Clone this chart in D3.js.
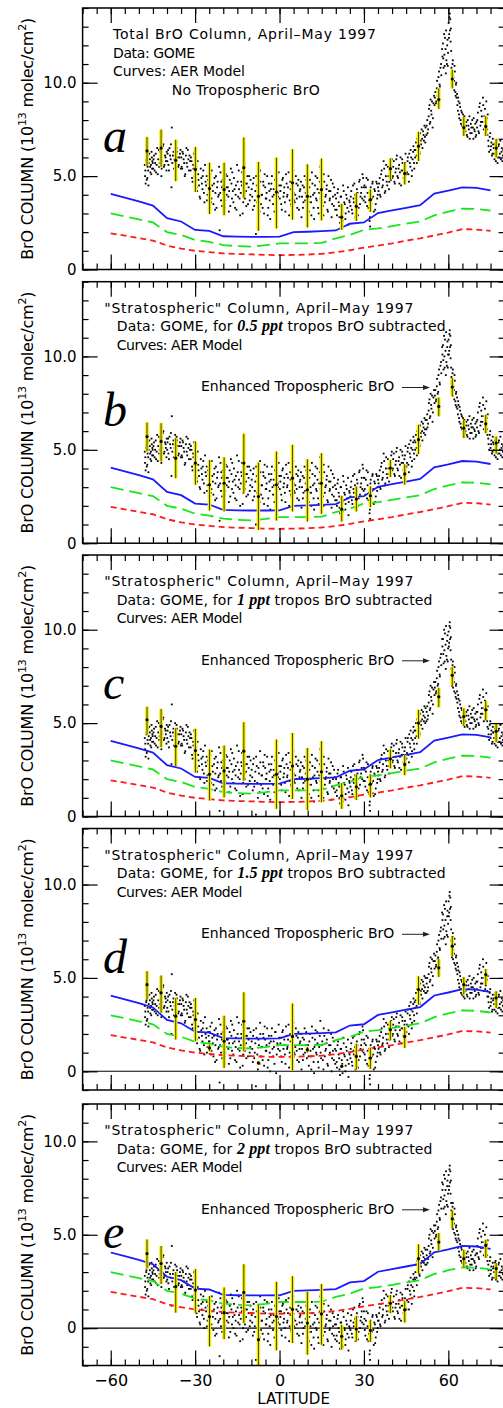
<!DOCTYPE html>
<html><head><meta charset="utf-8">
<script src="https://cdn.jsdelivr.net/npm/d3@7"></script>
<style>body{margin:0;background:#fff;} svg{display:block;}</style>
</head><body>
<svg id="chart" width="503" height="1408"></svg>
<script>
// ---------- DATA ----------
// GOME measurement latitudes (two passes), shared by all five panels
const dotLat = [
-47.9,-47.8,-47.6,-47.3,-47.0,-46.7,-46.5,-46.3,-46.0,-45.6,-45.4,-45.2,
-44.9,-44.6,-44.2,-43.9,-43.5,-43.1,-42.8,-42.4,-42.0,-41.7,-41.3,-40.9,-40.5,-40.2,
-39.8,-39.5,-39.1,-38.7,-38.4,-38.3,-37.9,-37.5,-37.1,-36.7,-36.4,-36.0,-35.6,-35.2,
-34.8,-34.5,-34.1,-33.7,-33.3,-33.0,-32.6,-32.2,-31.8,-31.5,-31.1,-30.7,-30.4,-30.1,
-29.8,-29.5,-29.1,-28.8,-28.4,-28.0,-27.6,-27.3,-26.9,-26.5,-26.1,-25.8,-25.4,-25.1,
-24.8,-24.4,-24.1,-23.7,-23.3,-22.9,-22.6,-22.2,-21.8,-21.5,-21.1,-20.7,-20.4,-20.1,-21.3,
-19.8,-19.5,-19.1,-18.8,-18.4,-18.0,-17.7,-17.3,-16.9,-16.6,-16.2,-15.8,-15.5,-15.1,-14.7,-14.4,-14.0,-13.6,-13.3,-12.9,-12.5,-12.1,-11.8,-11.4,-11.0,-10.6,-10.3,
-9.9,-9.5,-9.2,-8.8,-8.4,-8.1,-7.7,-7.3,-6.9,-6.6,-6.2,-5.8,-5.5,-5.1,-4.7,-4.4,-4.0,-3.6,-3.3,-2.9,-2.5,-2.1,-1.8,-1.4,-1.0,-0.6,-0.3,
0.1,0.5,0.8,1.2,1.6,1.9,2.3,2.7,3.0,3.4,3.8,4.1,4.5,4.9,5.2,5.6,6.0,6.3,6.7,7.1,7.4,7.8,8.2,8.5,8.9,9.3,9.7,
10.1,10.4,10.8,11.2,11.5,11.9,12.3,12.6,13.0,13.4,13.7,14.1,14.5,14.8,15.2,15.6,15.9,16.3,16.7,17.0,17.4,17.8,18.1,18.5,18.9,19.3,19.7,
20.1,20.4,20.8,21.2,21.5,21.9,22.3,22.6,23.0,23.4,23.7,24.1,24.5,24.8,
25.2,25.5,25.9,26.3,26.6,27.0,27.4,27.7,28.1,28.5,28.8,29.2,29.5,29.9,
30.2,30.5,30.9,31.3,31.6,32.0,32.2,32.4,32.8,33.1,33.5,33.9,34.2,34.6,34.9,
35.2,35.6,35.9,36.3,36.7,37.0,37.4,37.8,38.1,38.5,38.9,39.2,39.6,39.9,
40.3,40.6,41.0,41.4,41.7,42.1,42.5,42.8,43.2,43.6,43.9,44.3,44.6,44.9,
45.3,45.6,46.0,46.3,46.6,47.0,47.3,47.6,47.9,
48.2,48.5,48.8,49.2,49.5,49.8,50.2,50.5,50.8,51.2,51.5,51.8,
52.2,52.5,52.8,53.1,53.4,53.7,54.0,54.4,54.7,
55.1,55.4,55.7,56.0,56.4,56.7,57.0,57.4,57.8,
58.1,58.3,58.6,58.8,59.1,59.3,59.6,59.8,
60.1,60.3,60.5,60.7,60.9,
61.1,61.3,61.6,61.8,62.1,62.3,62.6,62.8,
63.1,63.4,63.6,63.9,64.2,64.5,64.8,65.1,65.4,65.7,
66.1,66.4,66.8,67.1,67.5,67.8,68.2,68.5,68.9,69.2,69.6,69.9,
70.2,70.5,70.9,71.2,71.6,71.9,72.3,72.6,73.0,73.3,73.7,73.9,
74.2,74.5,74.9,75.2,75.5,75.8,
76.1,76.4,76.8,77.1,77.5,77.8,78.2,78.5,78.9,79.2,79.5,79.8,
// second pass
-47.7,-47.4,-47.2,-46.9,-46.8,-46.6,-46.1,-45.9,-45.7,-45.5,-45.3,-45.1,
-44.8,-44.4,-44.0,-43.7,-43.3,-42.9,-42.6,-42.2,-41.9,-41.5,-41.1,-40.7,-40.4,-40.1,
-39.9,-39.6,-39.3,-38.9,-38.6,-38.1,-37.7,-37.3,-36.9,-36.6,-36.2,-35.8,-35.4,-35.1,
-34.9,-34.6,-34.3,-33.9,-33.5,-33.1,-32.8,-32.4,-32.0,-31.6,-31.3,-30.9,-30.6,-30.2,
-29.9,-29.6,-29.3,-28.9,-28.6,-28.2,-27.8,-27.4,-27.1,-26.7,-26.3,-25.9,-25.6,-25.2,
-24.9,-24.6,-24.2,-23.9,-23.5,-23.1,-22.8,-22.4,-22.0,-21.6,-21.0,-20.8,-20.5,-20.2,
-19.9,-19.6,-19.3,-18.9,-18.6,-18.2,-17.9,-17.5,-17.1,-16.8,-16.4,-16.0,-15.6,-15.3,-14.9,-14.5,-14.2,-13.8,-13.4,-13.1,-12.7,-12.3,-11.9,-11.6,-11.2,-10.8,-10.4,
-9.7,-9.4,-9.0,-8.6,-8.3,-7.9,-7.5,-7.1,-6.8,-6.4,-6.0,-5.7,-5.3,-4.9,-4.6,-4.2,-3.8,-3.5,-3.1,-2.7,-2.3,-2.0,-1.6,-1.2,-0.8,-0.5,-0.1,
0.3,0.6,1.0,1.4,1.7,2.1,2.5,2.8,3.2,3.6,3.9,4.3,4.7,5.0,5.4,5.8,6.1,6.5,6.9,7.2,7.6,8.0,8.3,8.7,9.1,9.5,9.9,
10.3,10.6,11.0,11.3,11.7,12.1,12.4,12.8,13.2,13.5,13.9,14.3,14.6,15.0,15.4,15.7,16.1,16.5,16.8,17.2,17.6,17.9,18.3,18.7,19.0,19.4,19.8,
20.3,20.6,21.0,21.3,21.7,22.1,22.4,22.8,23.2,23.5,23.9,24.3,24.6,24.9,
25.3,25.7,26.1,26.4,26.8,27.2,27.5,27.9,28.3,28.6,29.0,29.4,29.7,30.0,
30.3,30.7,31.1,31.4,31.8,32.1,32.3,32.6,33.0,33.3,33.7,34.0,34.4,34.7,35.0,
35.4,35.7,36.1,36.5,36.8,37.2,37.6,37.9,38.3,38.7,39.0,39.4,39.7,40.1,
40.4,40.8,41.2,41.5,41.9,42.3,42.6,43.0,43.4,43.7,44.1,44.4,44.8,45.1,
45.5,45.8,46.1,46.5,46.8,47.1,47.5,47.8,48.0,
48.3,48.7,49.0,49.3,49.7,50.0,50.3,50.7,51.0,51.3,51.7,51.9,
52.3,52.6,53.0,53.3,53.6,53.9,54.2,54.5,54.9,
55.2,55.6,55.9,56.2,56.5,56.9,57.2,57.5,57.9,
58.2,58.5,58.7,59.0,59.2,59.5,59.7,59.9,
60.2,60.4,60.6,60.8,61.0,
61.2,61.5,61.7,62.0,62.2,62.5,62.7,62.9,
63.2,63.5,63.8,64.0,64.3,64.6,64.9,65.2,65.5,65.8,
66.3,66.6,66.9,67.3,67.6,68.0,68.3,68.7,69.0,69.4,69.7,70.0,
70.3,70.7,71.0,71.4,71.7,72.1,72.4,72.8,73.1,73.5,73.8,74.0,
74.3,74.7,75.0,75.3,75.7,75.9,
76.3,76.6,76.9,77.3,77.6,78.0,78.3,78.7,79.0,79.4,79.7,79.9];

// (a) total BrO column
const dotA = [
5.6,5.0,4.6,5.9,4.9,5.3,5.7,6.2,5.5,5.1,6.0,5.8,
5.4,6.1,5.7,5.2,6.5,5.9,5.5,6.3,5.0,5.8,6.7,5.6,6.0,5.3,
6.2,5.6,6.5,5.9,4.4,7.6,6.1,5.4,6.6,5.8,6.3,5.5,6.0,6.4,
5.5,6.3,5.9,5.0,6.1,5.7,6.4,5.3,5.8,6.0,4.9,5.6,6.2,5.2,
5.2,4.4,5.8,4.8,3.9,5.4,4.6,5.0,4.1,5.6,4.5,3.7,4.8,4.3,
4.8,3.6,5.3,4.2,4.6,3.2,5.0,4.4,3.9,5.5,4.1,4.7,3.4,4.5,2.1,
4.6,3.5,5.1,4.0,4.4,3.1,4.8,5.4,3.8,4.2,4.9,3.3,4.5,5.6,3.9,4.3,2.9,4.7,5.2,3.6,4.1,4.6,3.4,5.0,4.4,3.7,4.8,
4.3,3.2,4.9,3.7,1.9,4.5,2.8,4.1,5.3,3.5,4.0,4.7,3.0,4.4,3.8,5.0,3.3,4.2,2.7,4.6,3.9,4.3,3.1,4.8,3.6,4.1,5.2,
3.8,4.5,3.2,4.9,4.1,3.6,5.1,3.9,4.4,2.9,4.7,3.5,4.2,5.3,3.7,4.0,4.6,3.3,4.8,3.9,4.3,2.8,4.5,3.6,5.0,4.1,3.4,
4.2,3.1,4.8,3.6,5.2,4.0,2.7,4.5,3.8,4.9,3.3,4.1,5.5,3.5,4.4,2.9,4.7,3.9,4.3,3.2,5.0,3.7,4.2,2.8,4.6,3.4,4.0,
3.8,2.9,4.3,3.4,2.5,3.9,3.1,4.5,3.6,2.7,4.0,3.3,2.4,3.7,
3.4,4.2,3.0,3.8,4.6,2.8,3.6,4.1,3.3,4.8,3.9,4.4,5.1,3.7,
4.5,3.6,4.9,4.1,3.3,2.6,2.3,4.4,3.8,4.7,3.1,4.2,3.5,4.6,4.0,
4.2,4.9,3.9,5.3,4.5,5.8,4.1,5.0,4.7,5.5,4.3,5.2,4.8,5.9,
5.0,5.8,4.6,5.4,6.1,4.9,5.6,5.2,4.5,5.9,5.3,4.8,5.7,5.1,
5.2,6.0,4.7,5.7,6.4,5.0,5.9,6.6,5.4,
6.0,6.8,5.7,6.4,7.1,6.2,6.9,7.5,6.5,7.2,7.7,6.8,
7.2,8.0,7.5,8.6,7.8,9.1,8.3,7.6,8.9,
8.8,9.5,9.0,10.1,9.4,10.6,9.8,11.0,11.8,
12.1,10.8,11.5,12.4,10.5,11.2,12.0,10.9,
13.2,12.6,13.7,13.4,12.9,
10.8,9.9,11.2,10.3,9.6,10.6,9.3,10.0,
9.4,8.5,9.0,8.1,8.7,7.8,8.4,8.0,7.6,8.2,
7.4,7.9,7.1,7.7,8.2,7.3,7.6,8.0,7.0,7.5,7.8,7.2,
7.6,8.4,7.3,8.9,7.9,8.2,9.2,7.5,8.6,7.8,8.1,7.2,
6.9,6.3,7.3,6.6,6.1,7.0,
6.5,5.9,6.8,6.2,5.7,6.6,6.0,6.9,6.3,5.8,6.4,6.1,
5.3,5.8,4.8,5.5,6.1,4.5,5.9,5.2,5.6,6.3,5.4,5.7,
5.9,5.3,6.2,5.6,5.1,6.4,5.7,6.0,5.4,6.6,5.5,6.1,5.8,6.3,
5.8,6.4,5.3,6.1,6.7,5.7,6.3,5.9,5.2,6.5,6.0,5.6,6.2,5.4,
6.0,5.4,6.2,5.7,5.1,6.5,5.5,5.9,6.1,5.3,5.8,4.7,5.4,5.0,
4.7,5.5,4.2,5.1,4.5,3.8,4.9,4.3,5.3,3.6,4.7,5.0,4.0,4.6,
4.3,5.1,3.8,4.5,3.5,4.9,4.1,3.3,4.7,4.0,5.2,3.7,4.4,4.8,
4.1,4.8,3.7,4.4,5.0,3.9,4.2,3.4,4.6,5.2,3.6,4.3,4.0,3.2,4.7,5.3,3.8,4.1,4.5,3.0,4.9,3.8,4.2,4.6,3.5,5.0,4.0,
3.9,4.6,3.4,4.2,5.0,3.6,4.4,3.1,4.7,4.0,3.3,4.5,5.1,3.8,4.1,2.9,4.6,3.7,4.3,5.0,3.5,4.0,4.8,2.6,4.2,3.9,4.5,
4.2,3.5,4.8,3.9,4.4,3.1,4.6,4.0,5.2,3.7,4.3,3.4,4.9,4.1,3.6,5.0,3.8,4.5,3.2,4.2,4.7,3.9,3.3,4.4,3.7,4.8,4.1,
3.6,4.4,3.9,2.9,4.6,3.3,4.1,5.0,3.7,4.3,3.0,4.7,3.8,4.2,3.4,5.1,3.6,4.0,4.5,3.1,4.2,3.8,4.8,3.5,3.9,4.4,3.2,
3.2,4.1,3.6,2.8,3.9,3.3,2.6,4.2,3.5,3.0,3.8,4.4,3.1,3.6,
3.9,3.2,4.5,3.6,4.0,3.3,4.3,2.9,4.7,3.5,4.1,3.8,4.9,4.4,
3.9,4.4,3.4,4.8,3.7,2.8,4.2,3.5,4.6,3.9,4.3,3.2,4.7,3.8,4.4,
4.6,4.0,5.1,4.4,4.8,5.4,4.2,5.6,4.5,5.0,4.7,5.3,5.7,4.9,
5.5,4.7,5.2,5.9,5.0,5.4,4.6,6.0,5.3,5.7,4.9,5.5,6.2,5.1,
5.8,5.1,6.2,5.5,6.0,5.3,6.3,5.7,6.4,
6.4,6.1,7.0,6.6,6.3,7.3,6.7,7.0,7.4,6.9,7.1,7.6,
7.7,7.3,8.2,8.8,7.9,8.5,9.0,8.1,9.3,
9.2,8.9,9.7,9.3,10.3,9.9,10.8,10.4,11.4,
11.3,12.6,10.9,11.8,12.8,11.0,12.3,11.6,
12.4,13.5,12.8,12.2,11.7,
10.5,11.0,9.8,10.1,10.9,9.5,9.9,9.2,
8.8,9.2,8.3,8.9,8.0,8.5,7.7,8.3,7.9,7.5,
7.7,7.2,8.0,7.5,7.0,7.8,7.3,7.6,8.1,7.4,7.1,7.9,
8.0,7.4,8.7,7.7,8.5,7.9,8.8,8.2,7.6,9.0,7.5,8.3,
6.6,7.1,6.4,6.8,6.2,6.7,
6.2,6.7,5.8,6.4,6.0,6.7,6.2,5.9,6.5,6.1,6.8,6.0];

// (b) 0.5 ppt tropospheric BrO subtracted
const dotB = [
4.9,4.3,3.9,5.2,4.2,4.6,5.0,5.5,4.8,4.4,5.3,5.1,
4.7,5.4,5.0,4.5,5.8,5.2,4.8,5.6,4.3,5.1,6.0,4.9,5.3,4.6,
5.4,4.8,5.7,5.1,3.6,6.8,5.3,4.6,5.8,5.0,5.5,4.7,5.2,5.6,
4.7,5.5,5.1,4.2,5.3,4.9,5.6,4.5,5.0,5.2,4.1,4.8,5.4,4.4,
4.3,3.5,4.9,3.9,3.0,4.5,3.7,4.1,3.2,4.7,3.6,2.8,3.9,3.4,
3.9,2.7,4.4,3.3,3.7,2.3,4.1,3.5,3.0,4.6,3.2,3.8,2.5,3.6,1.2,
3.7,2.6,4.2,3.1,3.5,2.2,3.9,4.5,2.9,3.3,4.0,2.4,3.6,4.7,3.0,3.4,2.0,3.8,4.3,2.7,3.2,3.7,2.5,4.1,3.5,2.8,3.9,
3.4,2.3,4.0,2.8,1.0,3.6,1.9,3.2,4.4,2.6,3.1,3.8,2.1,3.5,2.9,4.1,2.4,3.3,1.8,3.7,3.0,3.4,2.2,3.9,2.7,3.2,4.3,
2.9,3.6,2.3,4.0,3.2,2.7,4.2,3.0,3.5,2.0,3.8,2.6,3.3,4.4,2.8,3.1,3.7,2.4,3.9,3.0,3.4,1.9,3.6,2.7,4.1,3.2,2.5,
3.3,2.2,3.9,2.7,4.3,3.1,1.8,3.6,2.9,4.0,2.4,3.2,4.6,2.6,3.5,2.0,3.8,3.0,3.4,2.3,4.1,2.8,3.3,1.9,3.7,2.5,3.1,
2.9,2.0,3.4,2.5,1.6,3.0,2.2,3.6,2.7,1.8,3.1,2.4,1.5,2.8,
2.5,3.3,2.1,2.9,3.7,1.9,2.7,3.2,2.4,3.9,3.0,3.5,4.2,2.8,
3.5,2.6,3.9,3.1,2.3,1.6,1.3,3.4,2.8,3.7,2.1,3.2,2.5,3.6,3.0,
3.2,3.9,2.9,4.3,3.5,4.8,3.1,4.0,3.7,4.5,3.3,4.2,3.8,4.9,
4.0,4.8,3.6,4.4,5.1,3.9,4.6,4.2,3.5,4.9,4.3,3.8,4.7,4.1,
4.3,5.1,3.8,4.8,5.5,4.1,5.0,5.7,4.5,
5.0,5.8,4.7,5.4,6.1,5.2,5.9,6.5,5.5,6.2,6.7,5.8,
6.1,6.9,6.4,7.5,6.7,8.0,7.2,6.5,7.8,
7.5,8.2,7.7,8.8,8.1,9.3,8.5,9.7,10.5,
10.6,9.3,10.0,10.9,9.0,9.7,10.5,9.4,
10.9,10.3,11.4,11.1,10.6,
8.9,8.0,9.3,8.4,7.7,8.7,7.4,8.1,
7.8,6.9,7.4,6.5,7.1,6.2,6.8,6.4,6.0,6.6,
6.0,6.5,5.7,6.3,6.8,5.9,6.2,6.6,5.6,6.1,6.4,5.8,
6.2,7.0,5.9,7.5,6.5,6.8,7.8,6.1,7.2,6.4,6.7,5.8,
5.6,5.0,6.0,5.3,4.8,5.7,
5.3,4.7,5.6,5.0,4.5,5.4,4.8,5.7,5.1,4.6,5.2,4.9,
4.6,5.1,4.1,4.8,5.4,3.8,5.2,4.5,4.9,5.6,4.7,5.0,
5.2,4.6,5.5,4.9,4.4,5.7,5.0,5.3,4.7,5.9,4.8,5.4,5.1,5.6,
5.0,5.6,4.5,5.3,5.9,4.9,5.5,5.1,4.4,5.7,5.2,4.8,5.4,4.6,
5.2,4.6,5.4,4.9,4.3,5.7,4.7,5.1,5.3,4.5,5.0,3.9,4.6,4.2,
3.8,4.6,3.3,4.2,3.6,2.9,4.0,3.4,4.4,2.7,3.8,4.1,3.1,3.7,
3.4,4.2,2.9,3.6,2.6,4.0,3.2,2.4,3.8,3.1,4.3,2.8,3.5,3.9,
3.2,3.9,2.8,3.5,4.1,3.0,3.3,2.5,3.7,4.3,2.7,3.4,3.1,2.3,3.8,4.4,2.9,3.2,3.6,2.1,4.0,2.9,3.3,3.7,2.6,4.1,3.1,
3.0,3.7,2.5,3.3,4.1,2.7,3.5,2.2,3.8,3.1,2.4,3.6,4.2,2.9,3.2,2.0,3.7,2.8,3.4,4.1,2.6,3.1,3.9,1.7,3.3,3.0,3.6,
3.3,2.6,3.9,3.0,3.5,2.2,3.7,3.1,4.3,2.8,3.4,2.5,4.0,3.2,2.7,4.1,2.9,3.6,2.3,3.3,3.8,3.0,2.4,3.5,2.8,3.9,3.2,
2.7,3.5,3.0,2.0,3.7,2.4,3.2,4.1,2.8,3.4,2.1,3.8,2.9,3.3,2.5,4.2,2.7,3.1,3.6,2.2,3.3,2.9,3.9,2.6,3.0,3.5,2.3,
2.3,3.2,2.7,1.9,3.0,2.4,1.7,3.3,2.6,2.1,2.9,3.5,2.2,2.7,
3.0,2.3,3.6,2.7,3.1,2.4,3.4,2.0,3.8,2.6,3.2,2.9,4.0,3.5,
2.9,3.4,2.4,3.8,2.7,1.8,3.2,2.5,3.6,2.9,3.3,2.2,3.7,2.8,3.4,
3.6,3.0,4.1,3.4,3.8,4.4,3.2,4.6,3.5,4.0,3.7,4.3,4.7,3.9,
4.5,3.7,4.2,4.9,4.0,4.4,3.6,5.0,4.3,4.7,3.9,4.5,5.2,4.1,
4.9,4.2,5.3,4.6,5.1,4.4,5.4,4.8,5.5,
5.4,5.1,6.0,5.6,5.3,6.3,5.7,6.0,6.4,5.9,6.1,6.6,
6.6,6.2,7.1,7.7,6.8,7.4,7.9,7.0,8.2,
7.9,7.6,8.4,8.0,9.0,8.6,9.5,9.1,10.1,
9.8,11.1,9.4,10.3,11.3,9.5,10.8,10.1,
10.1,11.2,10.5,9.9,9.4,
8.6,9.1,7.9,8.2,9.0,7.6,8.0,7.3,
7.2,7.6,6.7,7.3,6.4,6.9,6.1,6.7,6.3,5.9,
6.3,5.8,6.6,6.1,5.6,6.4,5.9,6.2,6.7,6.0,5.7,6.5,
6.6,6.0,7.3,6.3,7.1,6.5,7.4,6.8,6.2,7.6,6.1,6.9,
5.3,5.8,5.1,5.5,4.9,5.4,
5.0,5.5,4.6,5.2,4.8,5.5,5.0,4.7,5.3,4.9,5.6,4.8];

// (c) 1 ppt subtracted
const dotC = [
4.2,3.6,3.2,4.5,3.5,3.9,4.3,4.8,4.1,3.7,4.6,4.4,
4.0,4.7,4.3,3.8,5.1,4.5,4.1,4.9,3.6,4.4,5.3,4.2,4.6,3.9,
4.6,4.0,4.9,4.3,2.8,6.0,4.5,3.8,5.0,4.2,4.7,3.9,4.4,4.8,
3.9,4.7,4.3,3.4,4.5,4.1,4.8,3.7,4.2,4.4,3.3,4.0,4.6,3.6,
3.4,2.6,4.0,3.0,2.1,3.6,2.8,3.2,2.3,3.8,2.7,1.9,3.0,2.5,
3.0,1.8,3.5,2.4,2.8,1.4,3.2,2.6,2.1,3.7,2.3,2.9,1.6,2.7,0.3,
2.8,1.7,3.3,2.2,2.6,1.3,3.0,3.6,2.0,2.4,3.1,1.5,2.7,3.8,2.1,2.5,1.1,2.9,3.4,1.8,2.3,2.8,1.6,3.2,2.6,1.9,3.0,
2.5,1.4,3.1,1.9,0.1,2.7,1.0,2.3,3.5,1.7,2.2,2.9,1.2,2.6,2.0,3.2,1.5,2.4,0.9,2.8,2.1,2.5,1.3,3.0,1.8,2.3,3.4,
2.0,2.7,1.4,3.1,2.3,1.8,3.3,2.1,2.6,1.1,2.9,1.7,2.4,3.5,1.9,2.2,2.8,1.5,3.0,2.1,2.5,1.0,2.7,1.8,3.2,2.3,1.6,
2.3,1.2,2.9,1.7,3.3,2.1,0.8,2.6,1.9,3.0,1.4,2.2,3.6,1.6,2.5,1.0,2.8,2.0,2.4,1.3,3.1,1.8,2.3,0.9,2.7,1.5,2.1,
2.0,1.1,2.5,1.6,0.7,2.1,1.3,2.7,1.8,0.9,2.2,1.5,0.6,1.9,
1.6,2.4,1.2,2.0,2.8,1.0,1.8,2.3,1.5,3.0,2.1,2.6,3.3,1.9,
2.5,1.6,2.9,2.1,1.3,0.6,0.3,2.4,1.8,2.7,1.1,2.2,1.5,2.6,2.0,
2.2,2.9,1.9,3.3,2.5,3.8,2.1,3.0,2.7,3.5,2.3,3.2,2.8,3.9,
3.0,3.8,2.6,3.4,4.1,2.9,3.6,3.2,2.5,3.9,3.3,2.8,3.7,3.1,
3.4,4.2,2.9,3.9,4.6,3.2,4.1,4.8,3.6,
4.2,5.0,3.9,4.6,5.3,4.4,5.1,5.7,4.7,5.4,5.9,5.0,
5.1,5.9,5.4,6.5,5.7,7.0,6.2,5.5,6.8,
6.5,7.2,6.7,7.8,7.1,8.3,7.5,8.7,9.5,
9.5,8.2,8.9,9.8,7.9,8.6,9.4,8.3,
9.9,9.3,10.4,10.1,9.6,
7.9,7.0,8.3,7.4,6.7,7.7,6.4,7.1,
6.7,5.8,6.3,5.4,6.0,5.1,5.7,5.3,4.9,5.5,
5.1,5.6,4.8,5.4,5.9,5.0,5.3,5.7,4.7,5.2,5.5,4.9,
5.2,6.0,4.9,6.5,5.5,5.8,6.8,5.1,6.2,5.4,5.7,4.8,
4.7,4.1,5.1,4.4,3.9,4.8,
4.5,3.9,4.8,4.2,3.7,4.6,4.0,4.9,4.3,3.8,4.4,4.1,
3.9,4.4,3.4,4.1,4.7,3.1,4.5,3.8,4.2,4.9,4.0,4.3,
4.5,3.9,4.8,4.2,3.7,5.0,4.3,4.6,4.0,5.2,4.1,4.7,4.4,4.9,
4.2,4.8,3.7,4.5,5.1,4.1,4.7,4.3,3.6,4.9,4.4,4.0,4.6,3.8,
4.4,3.8,4.6,4.1,3.5,4.9,3.9,4.3,4.5,3.7,4.2,3.1,3.8,3.4,
2.9,3.7,2.4,3.3,2.7,2.0,3.1,2.5,3.5,1.8,2.9,3.2,2.2,2.8,
2.5,3.3,2.0,2.7,1.7,3.1,2.3,1.5,2.9,2.2,3.4,1.9,2.6,3.0,
2.3,3.0,1.9,2.6,3.2,2.1,2.4,1.6,2.8,3.4,1.8,2.5,2.2,1.4,2.9,3.5,2.0,2.3,2.7,1.2,3.1,2.0,2.4,2.8,1.7,3.2,2.2,
2.1,2.8,1.6,2.4,3.2,1.8,2.6,1.3,2.9,2.2,1.5,2.7,3.3,2.0,2.3,1.1,2.8,1.9,2.5,3.2,1.7,2.2,3.0,0.8,2.4,2.1,2.7,
2.4,1.7,3.0,2.1,2.6,1.3,2.8,2.2,3.4,1.9,2.5,1.6,3.1,2.3,1.8,3.2,2.0,2.7,1.4,2.4,2.9,2.1,1.5,2.6,1.9,3.0,2.3,
1.7,2.5,2.0,1.0,2.7,1.4,2.2,3.1,1.8,2.4,1.1,2.8,1.9,2.3,1.5,3.2,1.7,2.1,2.6,1.2,2.3,1.9,2.9,1.6,2.0,2.5,1.3,
1.4,2.3,1.8,1.0,2.1,1.5,0.8,2.4,1.7,1.2,2.0,2.6,1.3,1.8,
2.1,1.4,2.7,1.8,2.2,1.5,2.5,1.1,2.9,1.7,2.3,2.0,3.1,2.6,
1.9,2.4,1.4,2.8,1.7,0.8,2.2,1.5,2.6,1.9,2.3,1.2,2.7,1.8,2.4,
2.6,2.0,3.1,2.4,2.8,3.4,2.2,3.6,2.5,3.0,2.7,3.3,3.7,2.9,
3.5,2.7,3.2,3.9,3.0,3.4,2.6,4.0,3.3,3.7,2.9,3.5,4.2,3.1,
4.0,3.3,4.4,3.7,4.2,3.5,4.5,3.9,4.6,
4.6,4.3,5.2,4.8,4.5,5.5,4.9,5.2,5.6,5.1,5.3,5.8,
5.6,5.2,6.1,6.7,5.8,6.4,6.9,6.0,7.2,
6.9,6.6,7.4,7.0,8.0,7.6,8.5,8.1,9.1,
8.7,10.0,8.3,9.2,10.2,8.4,9.7,9.0,
9.1,10.2,9.5,8.9,8.4,
7.6,8.1,6.9,7.2,8.0,6.6,7.0,6.3,
6.1,6.5,5.6,6.2,5.3,5.8,5.0,5.6,5.2,4.8,
5.4,4.9,5.7,5.2,4.7,5.5,5.0,5.3,5.8,5.1,4.8,5.6,
5.6,5.0,6.3,5.3,6.1,5.5,6.4,5.8,5.2,6.6,5.1,5.9,
4.4,4.9,4.2,4.6,4.0,4.5,
4.2,4.7,3.8,4.4,4.0,4.7,4.2,3.9,4.5,4.1,4.8,4.0];

// (d) 1.5 ppt subtracted
const dotD = [
3.5,2.9,2.5,3.8,2.8,3.2,3.6,4.1,3.4,3.0,3.9,3.7,
3.3,4.0,3.6,3.1,4.4,3.8,3.4,4.2,2.9,3.7,4.6,3.5,3.9,3.2,
3.8,3.2,4.1,3.5,2.0,5.2,3.7,3.0,4.2,3.4,3.9,3.1,3.6,4.0,
3.1,3.9,3.5,2.6,3.7,3.3,4.0,2.9,3.4,3.6,2.5,3.2,3.8,2.8,
2.5,1.7,3.1,2.1,1.2,2.7,1.9,2.3,1.4,2.9,1.8,1.0,2.1,1.6,
2.1,0.9,2.6,1.5,1.9,0.5,2.3,1.7,1.2,2.8,1.4,2.0,0.7,1.8,-0.6,
1.9,0.8,2.4,1.3,1.7,0.4,2.1,2.7,1.1,1.5,2.2,0.6,1.8,2.9,1.2,1.6,0.2,2.0,2.5,0.9,1.4,1.9,0.7,2.3,1.7,1.0,2.1,
1.6,0.5,2.2,1.0,-0.8,1.8,0.1,1.4,2.6,0.8,1.3,2.0,0.3,1.7,1.1,2.3,0.6,1.5,0.0,1.9,1.2,1.6,0.4,2.1,0.9,1.4,2.5,
1.1,1.8,0.5,2.2,1.4,0.9,2.4,1.2,1.7,0.2,2.0,0.8,1.5,2.6,1.0,1.3,1.9,0.6,2.1,1.2,1.6,0.1,1.8,0.9,2.3,1.4,0.7,
1.4,0.3,2.0,0.8,2.4,1.2,-0.1,1.7,1.0,2.1,0.5,1.3,2.7,0.7,1.6,0.1,1.9,1.1,1.5,0.4,2.2,0.9,1.4,0.0,1.8,0.6,1.2,
1.1,0.2,1.6,0.7,-0.2,1.2,0.4,1.8,0.9,0.0,1.3,0.6,-0.3,1.0,
0.7,1.5,0.3,1.1,1.9,0.1,0.9,1.4,0.6,2.1,1.2,1.7,2.4,1.0,
1.5,0.6,1.9,1.1,0.3,-0.4,-0.7,1.4,0.8,1.7,0.1,1.2,0.5,1.6,1.0,
1.2,1.9,0.9,2.3,1.5,2.8,1.1,2.0,1.7,2.5,1.3,2.2,1.8,2.9,
2.0,2.8,1.6,2.4,3.1,1.9,2.6,2.2,1.5,2.9,2.3,1.8,2.7,2.1,
2.5,3.3,2.0,3.0,3.7,2.3,3.2,3.9,2.7,
3.4,4.2,3.1,3.8,4.5,3.6,4.3,4.9,3.9,4.6,5.1,4.2,
4.2,5.0,4.5,5.6,4.8,6.1,5.3,4.6,5.9,
5.5,6.2,5.7,6.8,6.1,7.3,6.5,7.7,8.5,
8.4,7.1,7.8,8.7,6.8,7.5,8.3,7.2,
9.1,8.5,9.6,9.3,8.8,
7.0,6.1,7.4,6.5,5.8,6.8,5.5,6.2,
5.8,4.9,5.4,4.5,5.1,4.2,4.8,4.4,4.0,4.6,
4.3,4.8,4.0,4.6,5.1,4.2,4.5,4.9,3.9,4.4,4.7,4.1,
4.4,5.2,4.1,5.7,4.7,5.0,6.0,4.3,5.4,4.6,4.9,4.0,
4.0,3.4,4.4,3.7,3.2,4.1,
3.9,3.3,4.2,3.6,3.1,4.0,3.4,4.3,3.7,3.2,3.8,3.5,
3.2,3.7,2.7,3.4,4.0,2.4,3.8,3.1,3.5,4.2,3.3,3.6,
3.8,3.2,4.1,3.5,3.0,4.3,3.6,3.9,3.3,4.5,3.4,4.0,3.7,4.2,
3.4,4.0,2.9,3.7,4.3,3.3,3.9,3.5,2.8,4.1,3.6,3.2,3.8,3.0,
3.6,3.0,3.8,3.3,2.7,4.1,3.1,3.5,3.7,2.9,3.4,2.3,3.0,2.6,
2.0,2.8,1.5,2.4,1.8,1.1,2.2,1.6,2.6,0.9,2.0,2.3,1.3,1.9,
1.6,2.4,1.1,1.8,0.8,2.2,1.4,0.6,2.0,1.3,2.5,1.0,1.7,2.1,
1.4,2.1,1.0,1.7,2.3,1.2,1.5,0.7,1.9,2.5,0.9,1.6,1.3,0.5,2.0,2.6,1.1,1.4,1.8,0.3,2.2,1.1,1.5,1.9,0.8,2.3,1.3,
1.2,1.9,0.7,1.5,2.3,0.9,1.7,0.4,2.0,1.3,0.6,1.8,2.4,1.1,1.4,0.2,1.9,1.0,1.6,2.3,0.8,1.3,2.1,-0.1,1.5,1.2,1.8,
1.5,0.8,2.1,1.2,1.7,0.4,1.9,1.3,2.5,1.0,1.6,0.7,2.2,1.4,0.9,2.3,1.1,1.8,0.5,1.5,2.0,1.2,0.6,1.7,1.0,2.1,1.4,
0.8,1.6,1.1,0.1,1.8,0.5,1.3,2.2,0.9,1.5,0.2,1.9,1.0,1.4,0.6,2.3,0.8,1.2,1.7,0.3,1.4,1.0,2.0,0.7,1.1,1.6,0.4,
0.5,1.4,0.9,0.1,1.2,0.6,-0.1,1.5,0.8,0.3,1.1,1.7,0.4,0.9,
1.2,0.5,1.8,0.9,1.3,0.6,1.6,0.2,2.0,0.8,1.4,1.1,2.2,1.7,
0.9,1.4,0.4,1.8,0.7,-0.2,1.2,0.5,1.6,0.9,1.3,0.2,1.7,0.8,1.4,
1.6,1.0,2.1,1.4,1.8,2.4,1.2,2.6,1.5,2.0,1.7,2.3,2.7,1.9,
2.5,1.7,2.2,2.9,2.0,2.4,1.6,3.0,2.3,2.7,1.9,2.5,3.2,2.1,
3.1,2.4,3.5,2.8,3.3,2.6,3.6,3.0,3.7,
3.8,3.5,4.4,4.0,3.7,4.7,4.1,4.4,4.8,4.3,4.5,5.0,
4.7,4.3,5.2,5.8,4.9,5.5,6.0,5.1,6.3,
5.9,5.6,6.4,6.0,7.0,6.6,7.5,7.1,8.1,
7.6,8.9,7.2,8.1,9.1,7.3,8.6,7.9,
8.3,9.4,8.7,8.1,7.6,
6.7,7.2,6.0,6.3,7.1,5.7,6.1,5.4,
5.2,5.6,4.7,5.3,4.4,4.9,4.1,4.7,4.3,3.9,
4.6,4.1,4.9,4.4,3.9,4.7,4.2,4.5,5.0,4.3,4.0,4.8,
4.8,4.2,5.5,4.5,5.3,4.7,5.6,5.0,4.4,5.8,4.3,5.1,
3.7,4.2,3.5,3.9,3.3,3.8,
3.6,4.1,3.2,3.8,3.4,4.1,3.6,3.3,3.9,3.5,4.2,3.4];

// (e) 2 ppt subtracted
const dotE = [
2.8,2.2,1.8,3.1,2.1,2.5,2.9,3.4,2.7,2.3,3.2,3.0,
2.6,3.3,2.9,2.4,3.7,3.1,2.7,3.5,2.2,3.0,3.9,2.8,3.2,2.5,
3.0,2.4,3.3,2.7,1.2,4.4,2.9,2.2,3.4,2.6,3.1,2.3,2.8,3.2,
2.3,3.1,2.7,1.8,2.9,2.5,3.2,2.1,2.6,2.8,1.7,2.4,3.0,2.0,
1.6,0.8,2.2,1.2,0.3,1.8,1.0,1.4,0.5,2.0,0.9,0.1,1.2,0.7,
1.2,0.0,1.7,0.6,1.0,-0.4,1.4,0.8,0.3,1.9,0.5,1.1,-0.2,0.9,-1.5,
1.0,-0.1,1.5,0.4,0.8,-0.5,1.2,1.8,0.2,0.6,1.3,-0.3,0.9,2.0,0.3,0.7,-0.7,1.1,1.6,0.0,0.5,1.0,-0.2,1.4,0.8,0.1,1.2,
0.7,-0.4,1.3,0.1,-1.7,0.9,-0.8,0.5,1.7,-0.1,0.4,1.1,-0.6,0.8,0.2,1.4,-0.3,0.6,-0.9,1.0,0.3,0.7,-0.5,1.2,0.0,0.5,1.6,
0.2,0.9,-0.4,1.3,0.5,0.0,1.5,0.3,0.8,-0.7,1.1,-0.1,0.6,1.7,0.1,0.4,1.0,-0.3,1.2,0.3,0.7,-0.8,0.9,0.0,1.4,0.5,-0.2,
0.4,-0.7,1.0,-0.2,1.4,0.2,-1.1,0.7,0.0,1.1,-0.5,0.3,1.7,-0.3,0.6,-0.9,0.9,0.1,0.5,-0.6,1.2,-0.1,0.4,-1.0,0.8,-0.4,0.2,
0.2,-0.7,0.7,-0.2,-1.1,0.3,-0.5,0.9,0.0,-0.9,0.4,-0.3,-1.2,0.1,
-0.1,0.7,-0.5,0.3,1.1,-0.7,0.1,0.6,-0.2,1.3,0.4,0.9,1.6,0.2,
0.5,-0.4,0.9,0.1,-0.7,-1.4,-1.7,0.4,-0.2,0.7,-0.9,0.2,-0.5,0.6,0.0,
0.4,1.1,0.1,1.5,0.7,2.0,0.3,1.2,0.9,1.7,0.5,1.4,1.0,2.1,
0.9,1.7,0.5,1.3,2.0,0.8,1.5,1.1,0.4,1.8,1.2,0.7,1.6,1.0,
1.5,2.3,1.0,2.0,2.7,1.3,2.2,2.9,1.7,
2.6,3.4,2.3,3.0,3.7,2.8,3.5,4.1,3.1,3.8,4.3,3.4,
3.4,4.2,3.7,4.8,4.0,5.3,4.5,3.8,5.1,
4.8,5.5,5.0,6.1,5.4,6.6,5.8,7.0,7.8,
7.7,6.4,7.1,8.0,6.1,6.8,7.6,6.5,
8.2,7.6,8.7,8.4,7.9,
6.3,5.4,6.7,5.8,5.1,6.1,4.8,5.5,
5.2,4.3,4.8,3.9,4.5,3.6,4.2,3.8,3.4,4.0,
3.5,4.0,3.2,3.8,4.3,3.4,3.7,4.1,3.1,3.6,3.9,3.3,
4.0,4.8,3.7,5.3,4.3,4.6,5.6,3.9,5.0,4.2,4.5,3.6,
3.4,2.8,3.8,3.1,2.6,3.5,
3.3,2.7,3.6,3.0,2.5,3.4,2.8,3.7,3.1,2.6,3.2,2.9,
2.5,3.0,2.0,2.7,3.3,1.7,3.1,2.4,2.8,3.5,2.6,2.9,
3.1,2.5,3.4,2.8,2.3,3.6,2.9,3.2,2.6,3.8,2.7,3.3,3.0,3.5,
2.6,3.2,2.1,2.9,3.5,2.5,3.1,2.7,2.0,3.3,2.8,2.4,3.0,2.2,
2.8,2.2,3.0,2.5,1.9,3.3,2.3,2.7,2.9,2.1,2.6,1.5,2.2,1.8,
1.1,1.9,0.6,1.5,0.9,0.2,1.3,0.7,1.7,0.0,1.1,1.4,0.4,1.0,
0.7,1.5,0.2,0.9,-0.1,1.3,0.5,-0.3,1.1,0.4,1.6,0.1,0.8,1.2,
0.5,1.2,0.1,0.8,1.4,0.3,0.6,-0.2,1.0,1.6,0.0,0.7,0.4,-0.4,1.1,1.7,0.2,0.5,0.9,-0.6,1.3,0.2,0.6,1.0,-0.1,1.4,0.4,
0.3,1.0,-0.2,0.6,1.4,0.0,0.8,-0.5,1.1,0.4,-0.3,0.9,1.5,0.2,0.5,-0.7,1.0,0.1,0.7,1.4,-0.1,0.4,1.2,-1.0,0.6,0.3,0.9,
0.6,-0.1,1.2,0.3,0.8,-0.5,1.0,0.4,1.6,0.1,0.7,-0.2,1.3,0.5,0.0,1.4,0.2,0.9,-0.4,0.6,1.1,0.3,-0.3,0.8,0.1,1.2,0.5,
-0.2,0.6,0.1,-0.9,0.8,-0.5,0.3,1.2,-0.1,0.5,-0.8,0.9,0.0,0.4,-0.4,1.3,-0.2,0.2,0.7,-0.7,0.4,0.0,1.0,-0.3,0.1,0.6,-0.6,
-0.4,0.5,0.0,-0.8,0.3,-0.3,-1.0,0.6,-0.1,-0.6,0.2,0.8,-0.5,0.0,
0.4,-0.3,1.0,0.1,0.5,-0.2,0.8,-0.6,1.2,0.0,0.6,0.3,1.4,0.9,
-0.1,0.4,-0.6,0.8,-0.3,-1.2,0.2,-0.5,0.6,-0.1,0.3,-0.8,0.7,-0.2,0.4,
0.8,0.2,1.3,0.6,1.0,1.6,0.4,1.8,0.7,1.2,0.9,1.5,1.9,1.1,
1.4,0.6,1.1,1.8,0.9,1.3,0.5,1.9,1.2,1.6,0.8,1.4,2.1,1.0,
2.1,1.4,2.5,1.8,2.3,1.6,2.6,2.0,2.7,
3.0,2.7,3.6,3.2,2.9,3.9,3.3,3.6,4.0,3.5,3.7,4.2,
3.9,3.5,4.4,5.0,4.1,4.7,5.2,4.3,5.5,
5.2,4.9,5.7,5.3,6.3,5.9,6.8,6.4,7.4,
6.9,8.2,6.5,7.4,8.4,6.6,7.9,7.2,
7.4,8.5,7.8,7.2,6.7,
6.0,6.5,5.3,5.6,6.4,5.0,5.4,4.7,
4.6,5.0,4.1,4.7,3.8,4.3,3.5,4.1,3.7,3.3,
3.8,3.3,4.1,3.6,3.1,3.9,3.4,3.7,4.2,3.5,3.2,4.0,
4.4,3.8,5.1,4.1,4.9,4.3,5.2,4.6,4.0,5.4,3.9,4.7,
3.1,3.6,2.9,3.3,2.7,3.2,
3.0,3.5,2.6,3.2,2.8,3.5,3.0,2.7,3.3,2.9,3.6,2.8];

// error bars: [low, mean, high] per latitude, per panel (null = not shown)
const barLat = [-47.1,-42.1,-36.9,-29.9,-24.9,-19.7,-12.7,-7.5,-1.1,4.6,9.9,14.9,22.1,27.3,32.3,39.4,44.5,49.4,56.6,61.4,65.5,73.3,77.0];
const barA = [[5.54,6.35,7.10],[5.50,6.50,7.50],[4.73,5.85,6.95],[4.15,5.36,6.56],[2.97,4.33,5.72],[2.90,4.28,5.72],[3.83,5.45,7.07],[2.07,3.92,5.76],[2.20,4.15,5.99],[2.66,4.64,6.44],[2.25,3.92,5.63],[2.63,4.28,5.94],[2.12,2.80,3.52],[2.60,3.38,4.10],[3.08,3.74,4.28],[4.82,5.40,5.94],[4.55,5.14,5.72],[5.80,6.60,7.37],[8.60,9.10,9.70],[9.70,10.20,10.70],[7.15,7.60,8.15],[7.15,7.66,8.20],[6.00,6.50,7.00]];
const barB = [[4.91,5.71,6.46],[4.38,5.45,6.43],[3.48,4.55,5.63],[3.13,4.29,5.45],[1.75,3.13,4.46],[1.70,3.21,4.60],[2.68,4.29,5.86],[0.71,2.50,4.32],[1.21,3.13,4.91],[1.70,3.48,5.27],[1.16,2.86,4.50],[1.57,3.21,4.82],[1.16,1.82,2.54],[1.70,2.36,3.04],[1.93,2.54,3.04],[3.54,4.02,4.46],[3.13,3.71,4.23],[4.77,5.54,6.34],[6.79,7.32,7.80],[7.86,8.36,8.84],[5.63,6.16,6.60],[5.89,6.39,6.88],[4.79,5.36,5.71]];
const barC = [[4.38,5.18,5.88],[3.71,4.82,5.76],[2.70,3.76,4.73],[2.35,3.53,4.70],[0.85,2.26,3.59],[1.02,2.44,3.80],[1.91,3.50,5.05],null,[0.41,2.26,4.12],[0.94,2.70,4.47],[0.35,2.00,3.67],[0.76,2.39,4.03],[0.41,1.11,1.77],[0.88,1.59,2.26],[1.02,1.73,2.21],[2.58,3.09,3.59],[2.21,2.79,3.29],[4.17,5.00,5.71],[5.85,6.41,6.89],[7.00,7.56,8.00],[4.86,5.35,5.79],[5.18,5.71,6.18],[3.99,4.56,4.95]];
const barD = [[3.84,4.64,5.36],[3.13,4.20,5.13],[1.70,2.95,3.93],[1.61,2.77,3.93],[1.07,1.25,1.43],[0.18,1.61,2.98],[1.07,2.68,4.23],[0.36,0.45,0.54],null,[0.05,1.87,3.63],[1.00,1.16,1.30],null,[0.20,0.27,0.35],[0.09,0.80,1.48],[0.13,0.71,1.25],[1.66,2.23,2.71],[1.25,1.87,2.38],[3.57,4.38,5.09],[5.05,5.54,6.02],[6.16,6.70,7.20],[4.11,4.64,5.05],[4.64,5.18,5.48],[3.39,3.93,4.29]];
const barE = [[3.19,3.99,4.75],[2.36,3.46,4.40],[0.83,2.22,3.01],[0.83,2.04,3.16],[-0.98,0.62,1.72],[-0.59,0.83,2.18],[0.27,1.91,3.42],[-2.04,-0.62,1.24],[-1.19,0.62,2.48],[-0.80,1.01,2.78],[-1.42,0.27,1.95],[-0.89,0.76,2.36],[-1.15,-0.44,0.18],[-0.71,-0.05,0.66],[-0.74,-0.12,0.44],[0.80,1.33,1.77],[0.30,0.98,1.47],[2.93,3.72,4.49],[4.13,4.61,5.09],[5.37,5.85,6.29],[3.28,3.72,4.20],[3.76,4.43,4.73],[2.62,3.19,3.49]];

// AER model curves (same in all panels)
const modelLat = [-60,-55,-50,-45,-40,-35,-30,-25,-20,-15,-10,-5,0,5,10,15,20,25,30,35,40,45,50,55,60,65,70,75];
const modelBlue  = [4.05,3.85,3.65,3.42,2.75,2.57,2.12,2.07,1.78,1.76,1.75,1.75,1.76,2.00,2.02,2.05,2.09,2.45,2.52,3.02,3.16,3.30,3.44,4.06,4.22,4.40,4.37,4.24];
const modelGreen = [3.00,2.84,2.68,2.52,2.00,1.85,1.58,1.48,1.31,1.25,1.22,1.30,1.40,1.40,1.40,1.42,1.67,1.85,2.12,2.20,2.32,2.45,2.57,2.90,3.10,3.26,3.24,3.15];
const modelRed   = [1.94,1.81,1.68,1.55,1.28,1.12,1.00,0.93,0.86,0.83,0.81,0.78,0.77,0.78,0.80,0.84,0.92,1.03,1.17,1.28,1.40,1.54,1.67,1.82,1.98,2.16,2.14,2.07];

const xMajorTicks = [-60,-30,0,30,60];
const pptLabels = [null,'0.5','1','1.5','2'];
const panelLetters = ['a','b','c','d','e'];

// ---------- LAYOUT ----------
const svg = d3.select('#chart');
const FONT = 'DejaVu Sans, Verdana, sans-serif';
const x = d3.scaleLinear().domain([-70,80]).range([82.6,504.6]);
const PH = 261.5;
const tops = [8,281.7,555,828.5,1104];
const yDomains = [[0,14],[0,14],[0,14],[-1,13],[-2,12]];
const dotSets = [dotA,dotB,dotC,dotD,dotE];
const barSets = [barA,barB,barC,barD,barE];
const dataWidths = [null,329,315.7,329,315.7];

dotSets.forEach((s,i)=>{ if(s.length!==dotLat.length) console.error('len mismatch',i,s.length,dotLat.length); });

const minorX = d3.range(-70,81,5);

panelLetters.forEach((letter,i)=>{
  const top = tops[i], bottom = top+PH;
  const y = d3.scaleLinear().domain(yDomains[i]).range([bottom, top]);
  const g = svg.append('g');
  const clipId = 'clip'+i;
  svg.append('clipPath').attr('id',clipId).append('rect')
    .attr('x',x(-70)).attr('y',top).attr('width',x(80)-x(-70)).attr('height',PH);
  const pg = g.append('g').attr('clip-path',`url(#${clipId})`);

  if (yDomains[i][0] < 0) {
    pg.append('line').attr('x1',x(-70)).attr('x2',x(80)).attr('y1',y(0)).attr('y2',y(0))
      .attr('stroke','#000').attr('stroke-width',1.1);
  }
  // scatter
  pg.append('g').selectAll('rect').data(d3.zip(dotLat, dotSets[i])).join('rect')
    .attr('x',d=>x(d[0])-0.9).attr('y',d=>y(d[1])-0.9).attr('width',1.8).attr('height',1.8).attr('fill','#000');

  // model curves
  const line = d3.line().x((d,j)=>x(modelLat[j])).y(d=>y(d));
  pg.append('path').datum(modelRed).attr('d',line).attr('fill','none').attr('stroke','#ff1a1a').attr('stroke-width',1.8).attr('stroke-dasharray','6,4');
  pg.append('path').datum(modelGreen).attr('d',line).attr('fill','none').attr('stroke','#19e619').attr('stroke-width',1.8).attr('stroke-dasharray','13,6');
  pg.append('path').datum(modelBlue).attr('d',line).attr('fill','none').attr('stroke','#1a1aff').attr('stroke-width',1.8);

  // error bars
  const bars = barLat.map((lat,j)=>({lat, b: barSets[i][j]})).filter(d=>d.b);
  const bg = pg.append('g');
  bg.selectAll('line.y').data(bars).join('line').attr('class','y')
    .attr('x1',d=>x(d.lat)).attr('x2',d=>x(d.lat)).attr('y1',d=>y(d.b[0])).attr('y2',d=>y(d.b[2]))
    .attr('stroke','#f2ee00').attr('stroke-width',3.6);
  bg.selectAll('line.k').data(bars).join('line').attr('class','k')
    .attr('x1',d=>x(d.lat)).attr('x2',d=>x(d.lat)).attr('y1',d=>y(d.b[0])).attr('y2',d=>y(d.b[2]))
    .attr('stroke','#4a4600').attr('stroke-width',1);
  bg.selectAll('circle').data(bars).join('circle')
    .attr('cx',d=>x(d.lat)).attr('cy',d=>y(d.b[1])).attr('r',1.6).attr('fill','#000');

  // axes (inward ticks)
  const clean = s=>{ s.select('.domain').remove(); s.selectAll('line').attr('stroke','#000').attr('stroke-width',1.2); s.selectAll('text').remove(); };
  g.append('g').attr('transform',`translate(0,${bottom})`).call(d3.axisTop(x).tickValues(minorX).tickSize(6)).call(clean);
  g.append('g').attr('transform',`translate(0,${bottom})`).call(d3.axisTop(x).tickValues(xMajorTicks).tickSize(15)).call(clean);
  g.append('g').attr('transform',`translate(0,${top})`).call(d3.axisBottom(x).tickValues(minorX).tickSize(6)).call(clean);
  g.append('g').attr('transform',`translate(0,${top})`).call(d3.axisBottom(x).tickValues(xMajorTicks).tickSize(15)).call(clean);
  const minorY = d3.range(yDomains[i][0], yDomains[i][1]+0.01, 1);
  const majorY = [0,5,10];
  g.append('g').attr('transform',`translate(${x(-70)},0)`).call(d3.axisRight(y).tickValues(minorY).tickSize(6)).call(clean);
  g.append('g').attr('transform',`translate(${x(-70)},0)`).call(d3.axisRight(y).tickValues(majorY).tickSize(15)).call(clean);
  g.append('g').attr('transform',`translate(${x(80)},0)`).call(d3.axisLeft(y).tickValues(minorY).tickSize(6)).call(clean);
  g.append('g').attr('transform',`translate(${x(80)},0)`).call(d3.axisLeft(y).tickValues(majorY).tickSize(15)).call(clean);
  // y tick labels
  const yl = g.append('g').attr('transform',`translate(${x(-70)},0)`)
    .call(d3.axisLeft(y).tickValues(majorY).tickSize(0).tickPadding(6).tickFormat(d=>d===0?'0':d3.format('.1f')(d)));
  yl.select('.domain').remove();
  yl.selectAll('text').attr('font-family',FONT).attr('font-size',15).attr('fill','#000');

  // frame
  g.append('rect').attr('x',x(-70)).attr('y',top).attr('width',x(80)-x(-70)).attr('height',PH)
    .attr('fill','none').attr('stroke','#000').attr('stroke-width',1.5);

  // y title
  const yt = g.append('text').attr('transform',`translate(32.5,${top+PH/2}) rotate(-90)`)
    .attr('text-anchor','middle').attr('font-family',FONT).attr('font-size',16).attr('fill','#000')
    .attr('textLength',242).attr('lengthAdjust','spacing');
  yt.append('tspan').text('BrO COLUMN (10');
  yt.append('tspan').attr('font-size',11).attr('dy',-7).text('13');
  yt.append('tspan').attr('dy',7).text(' molec/cm');
  yt.append('tspan').attr('font-size',11).attr('dy',-7).text('2');
  yt.append('tspan').attr('dy',7).text(')');

  // panel letter
  g.append('text').attr('x',103).attr('y',top+144).attr('font-family','Liberation Serif, Times New Roman, serif')
    .attr('font-style','italic').attr('font-size',48).attr('fill','#000').text(letter);

  // annotations
  const T = (xx,yy,w,str)=> g.append('text').attr('x',xx).attr('y',yy).attr('font-family',FONT).attr('font-size',14)
      .attr('fill','#000').attr('textLength',w).attr('lengthAdjust','spacing').text(str);
  if (i===0) {
    T(113, top+31, 263, 'Total BrO Column, April–May 1997');
    T(113, top+50, 82, 'Data: GOME');
    T(113, top+68, 132, 'Curves: AER Model');
    T(171.7, top+86.7, 148, 'No Tropospheric BrO');
  } else {
    T(104.3, top+31.3, 309, '"Stratospheric" Column, April–May 1997');
    const dt = g.append('text').attr('x',116.7).attr('y',top+49.7).attr('font-family',FONT).attr('font-size',14)
      .attr('fill','#000').attr('textLength',dataWidths[i]).attr('lengthAdjust','spacing');
    dt.append('tspan').text('Data: GOME, for ');
    dt.append('tspan').attr('font-family','Liberation Serif, Times New Roman, serif').attr('font-style','italic')
      .attr('font-weight','bold').attr('font-size',16).text(pptLabels[i]+' ppt');
    dt.append('tspan').text(' tropos BrO subtracted');
    T(116.7, top+68, 125.7, 'Curves: AER Model');
    T(201, top+109.5, 193.3, 'Enhanced Tropospheric BrO');
    const ay = top+105.8;
    g.append('line').attr('x1',402).attr('x2',426).attr('y1',ay).attr('y2',ay).attr('stroke','#222').attr('stroke-width',1);
    g.append('path').attr('d',`M430,${ay} L423,${ay-2.5} L423,${ay+2.5} Z`).attr('fill','#222');
  }

  // bottom axis labels
  if (i===4) {
    const xl = g.append('g').attr('transform',`translate(0,${bottom})`)
      .call(d3.axisBottom(x).tickValues(xMajorTicks).tickSize(0).tickPadding(9.5).tickFormat(d=>d<0?'−'+(-d):String(d)));
    xl.select('.domain').remove();
    xl.selectAll('text').attr('font-family',FONT).attr('font-size',16).attr('fill','#000');
    g.append('text').attr('x',(x(-70)+x(80))/2).attr('y',1404).attr('text-anchor','middle')
      .attr('font-family',FONT).attr('font-size',15).attr('fill','#000').text('LATITUDE');
  }
});
</script>
</body></html>
